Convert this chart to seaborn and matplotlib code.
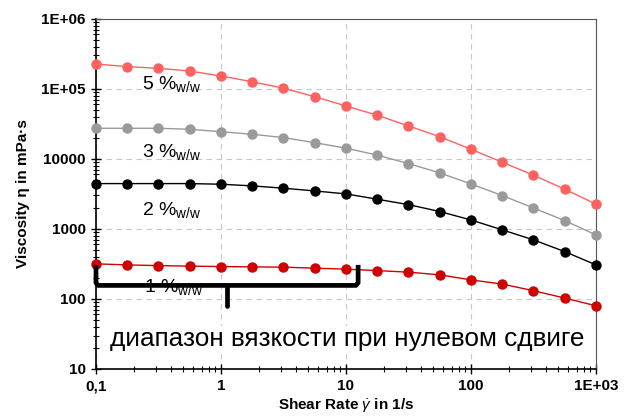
import numpy as np
import pandas as pd
import matplotlib
matplotlib.use("Agg")
import matplotlib.pyplot as plt
import seaborn as sns

# shear rates (1/s), 4 points per decade from 0.1 to 1000
shear_rate = [0.1, 0.178, 0.316, 0.562, 1.0, 1.78, 3.16, 5.62, 10.0,
              17.8, 31.6, 56.2, 100.0, 178.0, 316.0, 562.0, 1000.0]

# viscosity in mPa*s
visc_5 = [226000, 207000, 196000, 179000, 152000, 126000, 102000, 77100, 56800,
          41900, 29500, 20700, 13700, 8950, 5840, 3690, 2250]
visc_3 = [27300, 27300, 27300, 26400, 24400, 22400, 20100, 17000, 14200,
          11300, 8550, 6300, 4380, 2990, 1990, 1310, 820]
visc_2 = [4430, 4430, 4430, 4430, 4340, 4110, 3810, 3480, 3160,
          2650, 2220, 1770, 1340, 968, 697, 474, 306]
visc_1 = [317, 306, 299, 294, 290, 287, 284, 275, 266,
          254, 241, 221, 187, 163, 131, 103, 79.8]

series_names = ["5 %", "3 %", "2 %", "1 %"]
series_colors = ["#ff6161", "#9a9a9a", "#000000", "#d10000"]
# label anchor (x, y) for each series, data coords
label_x = [0.235, 0.235, 0.235, 0.24]
label_y = [118000, 12400, 1850, 148]

x_ticks = [0.1, 1, 10, 100, 1000]
x_ticklabels = ["0,1", "1", "10", "100", "1E+03"]
y_ticks = [10, 100, 1000, 10000, 1e5, 1e6]
y_ticklabels = ["10", "100", "1000", "10000", "1E+05", "1E+06"]

# curly bracket marking the zero shear plateau
brace_x = [0.1, 0.1, 0.104, 12.0, 12.5, 12.5]
brace_y = [306, 170, 156, 156, 170, 306]
brace_tip_x = [1.11, 1.11]
brace_tip_y = [156, 78]

sns.set_style("ticks")
plt.rcParams['font.family'] = ['Liberation Sans', 'DejaVu Sans']
plt.rcParams['mathtext.fontset'] = 'custom'
plt.rcParams['mathtext.rm'] = 'Liberation Sans'
plt.rcParams['mathtext.it'] = 'Liberation Sans:italic'
plt.rcParams['mathtext.bf'] = 'Liberation Sans:bold'
plt.rcParams['text.color'] = 'black'
plt.rcParams['axes.labelcolor'] = 'black'
plt.rcParams['xtick.color'] = 'black'
plt.rcParams['ytick.color'] = 'black'

fig = plt.figure(figsize=(6.25, 4.16), dpi=100)
ax = fig.add_axes([0.1536, 0.113, 0.80, 0.842])

all_vals = [visc_5, visc_3, visc_2, visc_1]
frames = []
for name, vals in zip(series_names, all_vals):
    frames.append(pd.DataFrame({"rate": shear_rate, "visc": vals, "conc": name}))
df = pd.concat(frames, ignore_index=True)

for name, col in zip(series_names, series_colors):
    sub = df[df["conc"] == name]
    sns.lineplot(data=sub, x="rate", y="visc", color=col, marker="o",
                 markersize=7.5, markeredgewidth=0, linewidth=1.0, ax=ax,
                 clip_on=False, zorder=3)

ax.set_xscale("log")
ax.set_yscale("log")
ax.set_xlim(0.1, 1000)
ax.set_ylim(10, 1e6)

ax.set_xticks(x_ticks, x_ticklabels)
ax.set_yticks(y_ticks, y_ticklabels)
for lab in ax.get_xticklabels() + ax.get_yticklabels():
    lab.set_fontweight("bold")
    lab.set_fontsize(11)
ax.tick_params(which="major", direction="inout", length=7, width=1, pad=4)
ax.tick_params(which="minor", direction="inout", length=4, width=0.8)

ax.grid(True, which="major", linestyle=(0, (5, 4)), color="#c8c8c8", linewidth=0.8)
for side in ["top", "right"]:
    ax.spines[side].set_color("#555555")
for side in ["left", "bottom"]:
    ax.spines[side].set_color("black")
    ax.spines[side].set_linewidth(1.2)

ax.set_xlabel(r"Shear Rate $\dot{\gamma}$ in 1/s", fontsize=11, fontweight="bold", labelpad=2)
ax.set_ylabel("Viscosity η in mPa·s", fontsize=11, fontweight="bold", labelpad=8)

for name, lx, ly in zip(series_names, label_x, label_y):
    ax.text(lx, ly, name + r"$_{\mathregular{w/w}}$", fontsize=14, va="center", ha="left", zorder=4)

ax.plot(brace_x, brace_y, color="black", linewidth=3.4, solid_capstyle="butt",
        solid_joinstyle="round", zorder=5, clip_on=False)
ax.plot(brace_tip_x, brace_tip_y, color="black", linewidth=3.4, zorder=5)

ax.text(0.028, 0.052, "диапазон вязкости при нулевом сдвиге", transform=ax.transAxes,
        fontsize=18.8, ha="left", va="bottom", zorder=4,
        bbox=dict(facecolor="white", edgecolor="none", pad=0.5))

fig.savefig("out.png", dpi=100)
